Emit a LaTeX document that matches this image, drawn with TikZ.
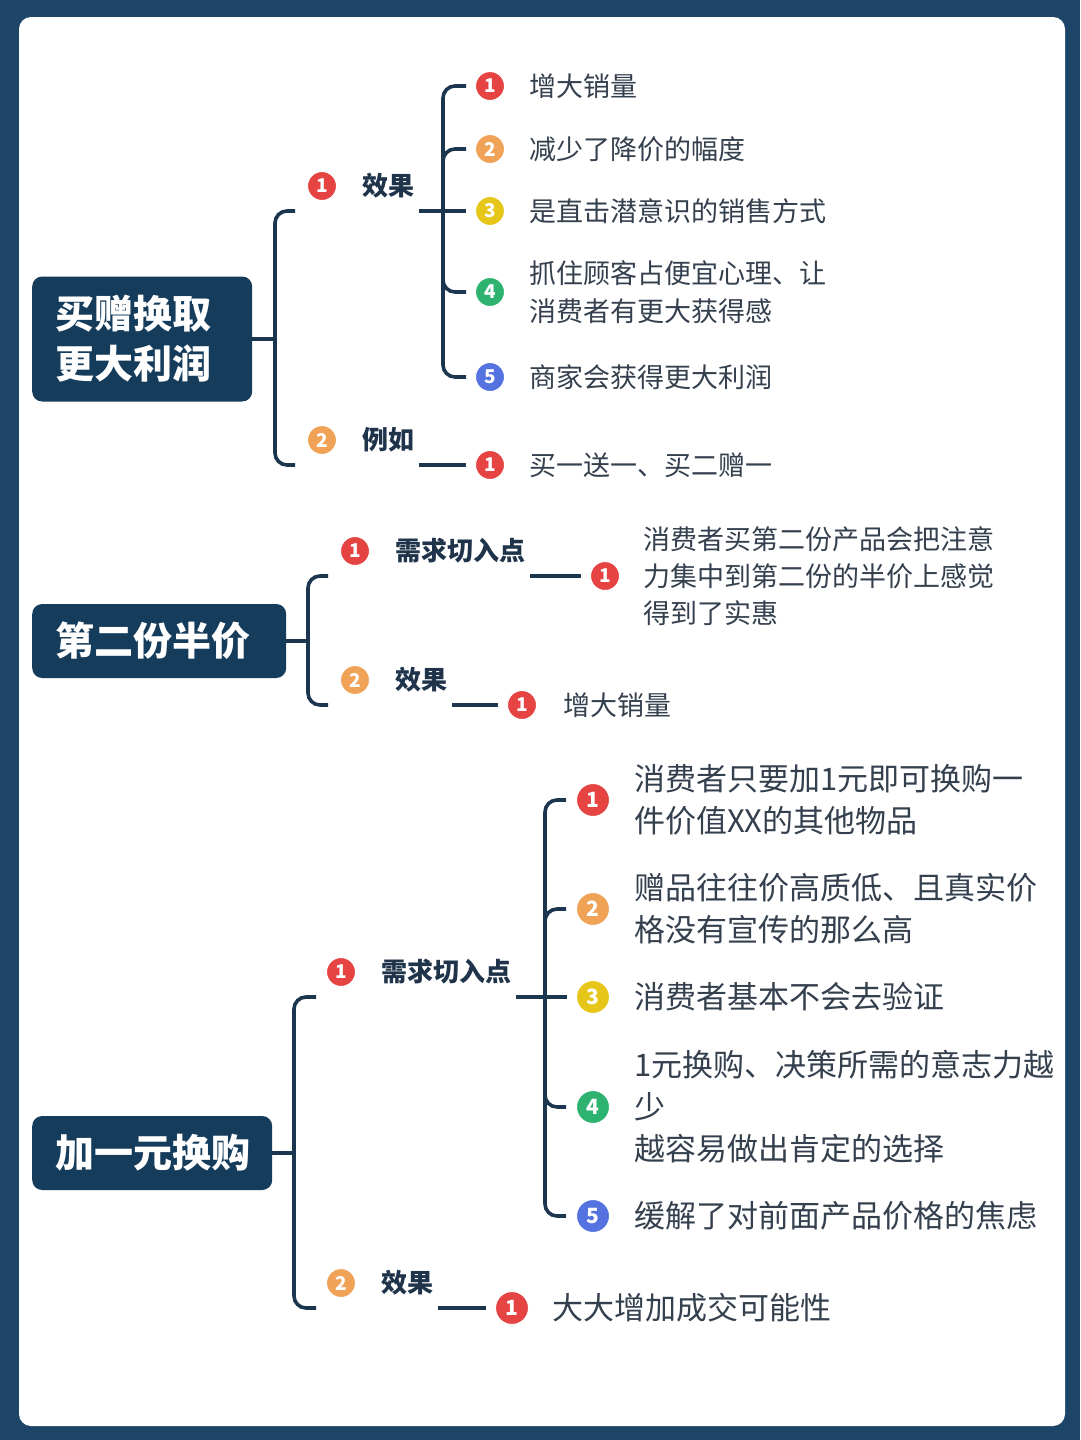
\documentclass[tikz,border=0pt]{standalone}
\usepackage{fontspec}
\setmainfont{Noto Sans CJK SC}
\usepackage{tikz}
\usetikzlibrary{positioning}

\definecolor{frame}{HTML}{1D4568}
\definecolor{rootbg}{HTML}{163C5C}
\definecolor{linkc}{HTML}{1C3650}
\definecolor{keyc}{HTML}{1F334A}
\definecolor{itemc}{HTML}{34404E}
\definecolor{nred}{HTML}{E64343}
\definecolor{norg}{HTML}{F0A257}
\definecolor{nyel}{HTML}{E6C619}
\definecolor{ngrn}{HTML}{2DB36F}
\definecolor{nblu}{HTML}{5472E0}

\begin{document}
\begin{tikzpicture}[x=1pt,y=-1pt,
  root/.style={fill=rootbg,rounded corners=10pt,text=white,align=left,anchor=west,
    inner xsep=23pt,font=\bfseries\fontsize{39}{50}\selectfont},
  key/.style={inner xsep=5pt,inner ysep=0pt,minimum height=50pt,text=keyc,
    font=\bfseries\fontsize{26}{30}\selectfont},
  item/.style={inner sep=0pt,align=left,text=itemc,font=\fontsize{27}{38}\selectfont},
  bigitem/.style={item,font=\fontsize{31}{42}\selectfont},
  num/.style={circle,fill=#1,draw=white,line width=1pt,minimum size=29pt,inner sep=0pt,
    text=white,font=\bfseries\fontsize{19}{19}\selectfont},
  bignum/.style={num=#1,minimum size=33pt,font=\bfseries\fontsize{21}{21}\selectfont},
  link/.style={draw=linkc,line width=3.6pt}]

  % frame and page
  \fill[frame] (0,0) rectangle (1080,1440);
  \fill[white,rounded corners=12pt] (19,17) rectangle (1065,1426);
  \useasboundingbox (0,0) rectangle (1080,1440);

  % ==========================================
  % BLOCK 1
  % ==========================================
  \node[root,text width=174pt,minimum height=125pt] (r1) at (32,339) {买赠换取\\更大利润};
  \node[num=nred] (k1n1) at (322,186) {1};
  \node[key,right=20pt of k1n1] (k1a) {效果};
  \node[num=norg] (k1n2) at (322,440) {2};
  \node[key,right=20pt of k1n2] (k1b) {例如};

  \foreach \n/\y/\col/\txt in {1/86/nred/{增大销量},2/149/norg/{减少了降价的幅度},
      3/211/nyel/{是直击潜意识的销售方式},4/292/ngrn/{抓住顾客占便宜心理、让\\消费者有更大获得感},
      5/377/nblu/{商家会获得更大利润}} {
    \node[num=\col] (c1\n) at (490,\y) {\n};
    \node[item,right=24pt of c1\n] (t1\n) {\txt};
  }
  \node[num=nred] (c16) at (490,465) {1};
  \node[item,right=24pt of c16] (t16) {买一送一、买二赠一};

  \draw[link] (r1.east) -- ++(25,0);
  \draw[link,rounded corners=12pt] ([xshift=-12pt,yshift=-25pt]k1n1.west) -- ++(-20,0)
    |- ([xshift=-12pt,yshift=-25pt]k1n2.west);
  \draw[link,shorten >=9pt] (k1a.south east) -- (k1a.south east -| c13.west);
  \draw[link,rounded corners=12pt] ([xshift=-9pt]c11.west) -- ++(-23,0) |- ([xshift=-9pt]c15.west);
  \draw[link,rounded corners=12pt] ([xshift=-32pt,yshift=-35pt]c12.west) |- ([xshift=-9pt]c12.west);
  \draw[link,rounded corners=12pt] ([xshift=-32pt,yshift=35pt]c14.west) |- ([xshift=-9pt]c14.west);
  \draw[link,shorten >=9pt] (k1b.south east) -- (k1b.south east -| c16.west);

  % ==========================================
  % BLOCK 2
  % ==========================================
  \node[root,text width=208pt,minimum height=74pt] (r2) at (32,641) {第二份半价};
  \node[num=nred] (k2n1) at (355,551) {1};
  \node[key,right=20pt of k2n1] (k2a) {需求切入点};
  \node[num=norg] (k2n2) at (355,680) {2};
  \node[key,right=20pt of k2n2] (k2b) {效果};

  \node[num=nred] (c21) at (605,576) {1};
  \node[item,right=23pt of c21,font=\fontsize{27}{37}\selectfont] (t21)
    {消费者买第二份产品会把注意\\力集中到第二份的半价上感觉\\得到了实惠};
  \node[num=nred] (c22) at (522,705) {1};
  \node[item,right=26pt of c22] (t22) {增大销量};

  \draw[link] (r2.east) -- ++(24,0);
  \draw[link,rounded corners=12pt] ([xshift=-12pt,yshift=-25pt]k2n1.west) -- ++(-20,0)
    |- ([xshift=-12pt,yshift=-25pt]k2n2.west);
  \draw[link,shorten >=9pt] (k2a.south east) -- (k2a.south east -| c21.west);
  \draw[link,shorten >=9pt] (k2b.south east) -- (k2b.south east -| c22.west);

  % ==========================================
  % BLOCK 3
  % ==========================================
  \node[root,text width=194pt,minimum height=74pt] (r3) at (32,1153) {加一元换购};
  \node[num=nred] (k3n1) at (341,972) {1};
  \node[key,right=20pt of k3n1] (k3a) {需求切入点};
  \node[num=norg] (k3n2) at (341,1283) {2};
  \node[key,right=20pt of k3n2] (k3b) {效果};

  \foreach \n/\y/\col/\txt in {1/800/nred/{消费者只要加1元即可换购一\\件价值XX的其他物品},
      2/909/norg/{赠品往往价高质低、且真实价\\格没有宣传的那么高},3/997/nyel/{消费者基本不会去验证},
      4/1107/ngrn/{1元换购、决策所需的意志力越\\少\\越容易做出肯定的选择},
      5/1216/nblu/{缓解了对前面产品价格的焦虑}} {
    \node[bignum=\col] (c3\n) at (593,\y) {\n};
    \node[bigitem,right=24pt of c3\n] (t3\n) {\txt};
  }
  \node[bignum=nred] (c36) at (512,1308) {1};
  \node[bigitem,right=23pt of c36] (t36) {大大增加成交可能性};

  \draw[link] (r3.east) -- ++(24,0);
  \draw[link,rounded corners=12pt] ([xshift=-10pt,yshift=-25pt]k3n1.west) -- ++(-22,0)
    |- ([xshift=-10pt,yshift=-25pt]k3n2.west);
  \draw[link,shorten >=9pt] (k3a.south east) -- (k3a.south east -| c33.west);
  \draw[link,rounded corners=12pt] ([xshift=-10pt]c31.west) -- ++(-21,0) |- ([xshift=-10pt]c35.west);
  \draw[link,rounded corners=12pt] ([xshift=-31pt,yshift=-40pt]c32.west) |- ([xshift=-10pt]c32.west);
  \draw[link,rounded corners=12pt] ([xshift=-31pt,yshift=40pt]c34.west) |- ([xshift=-10pt]c34.west);
  \draw[link,shorten >=9pt] (k3b.south east) -- (k3b.south east -| c36.west);

\end{tikzpicture}
\end{document}
